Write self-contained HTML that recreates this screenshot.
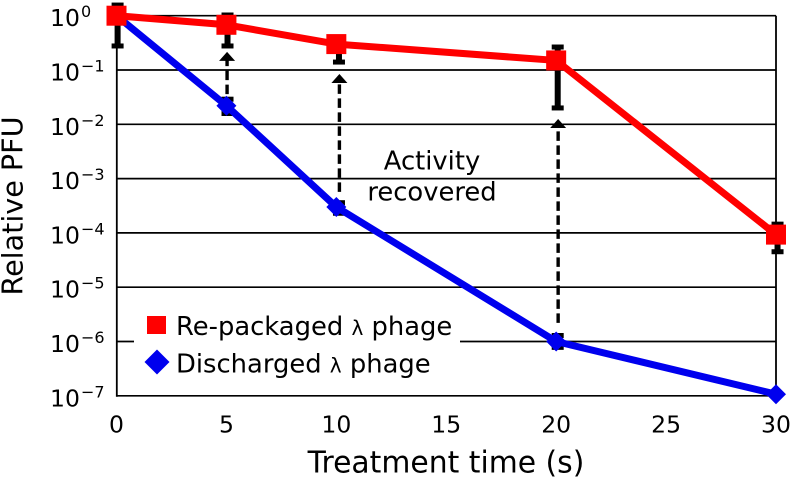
<!DOCTYPE html>
<html>
<head>
<meta charset="utf-8">
<style>
html,body{margin:0;padding:0;background:#fff;width:793px;height:478px;overflow:hidden}
svg{display:block;font-family:"DejaVu Sans","Liberation Sans",sans-serif;fill:#000}
</style>
</head>
<body>
<svg id="chart" width="793" height="478" viewBox="0 0 793 478" xmlns="http://www.w3.org/2000/svg">
  <text x="22.5" y="206" font-size="28.6" text-anchor="middle" transform="rotate(-90 22.5 206)">Relative PFU</text>
  <text x="446" y="472.5" font-size="29.8" text-anchor="middle">Treatment time (s)</text>
</svg>
<script>
var xTickValues = [0, 5, 10, 15, 20, 25, 30];
var yTickExponents = [0, -1, -2, -3, -4, -5, -6, -7];

var times = [0, 5, 10, 20, 30];
var repackaged = [1, 0.68, 0.3, 0.15, 0.000093];
var repackagedUpper = [1.57, 1.03, 0.35, 0.265, 0.000145];
var repackagedLower = [0.277, 0.277, 0.14, 0.02, 0.000045];
var discharged = [1, 0.022, 0.0003, 0.000001, 0.000000107];
var dischargedUpper = [1, 0.029, 0.00036, 0.00000129, 0.000000107];
var dischargedLower = [1, 0.0158, 0.00023, 0.00000078, 0.000000107];
var errorBarTimes = [0.05, 5.05, 10.12, 20.07, 30.07];

var arrowTimes = [5.03, 10.14, 20.09];
var arrowFrom = [0.036, 0.00057, 0.0000022];
var arrowTo = [0.216, 0.0843, 0.0125];

var SVGNS = 'http://www.w3.org/2000/svg';
var svg = document.getElementById('chart');

function xScale(t) { return 116.5 + (t / 30) * 659.5; }
function yScale(v) { return 15.7 - Math.log10(v) * 54.3; }

function add(tag, attrs, parent) {
  var el = document.createElementNS(SVGNS, tag);
  for (var k in attrs) el.setAttribute(k, attrs[k]);
  (parent || svg).appendChild(el);
  return el;
}

// grid lines
yTickExponents.forEach(function (e) {
  var y = yScale(Math.pow(10, e));
  var g = add('line', {x1: 116.5, x2: 776, y1: y, y2: y, stroke: '#000', 'stroke-width': 1.7});
  
  
});

// plot sides
var leftAxis = add('line', {x1: 116.8, x2: 116.8, y1: yScale(1), y2: yScale(1e-7) + 1, stroke: '#000', 'stroke-width': 1.8});


var rightAxis = add('line', {x1: 776, x2: 776, y1: yScale(1), y2: yScale(1e-7) + 1, stroke: '#000', 'stroke-width': 1.8});



// y tick labels
yTickExponents.forEach(function (e) {
  var y = yScale(Math.pow(10, e));
  var t = add('text', {x: 50, y: y + 10.5, 'font-size': 23.5});
  t.textContent = '10';
  
  
  var s = add('text', {x: 81, y: y + 1.5, 'font-size': 16});
  s.textContent = e === 0 ? '0' : '\u2212' + Math.abs(e);
  
  
});

// x tick labels
xTickValues.forEach(function (v) {
  var t = add('text', {x: xScale(v), y: 432.5, 'font-size': 23.5, 'text-anchor': 'middle'});
  t.textContent = String(v);
  
  
});

// legend backdrop interrupts the 10^-6 grid line
var legendBg = add('rect', {x: 134, y: 305, width: 326, height: 82, fill: '#fff'});



// dashed arrows
arrowTimes.forEach(function (t, i) {
  var x = xScale(t), y0 = yScale(arrowFrom[i]), y1 = yScale(arrowTo[i]);
  var l = add('line', {x1: x, x2: x, y1: y0, y2: y1 + 8, stroke: '#000', 'stroke-width': 3.4, 'stroke-dasharray': '9.5 4.5'});
  
  
  var h = add('polygon', {points: x + ',' + y1 + ' ' + (x - 8) + ',' + (y1 + 9) + ' ' + (x + 8) + ',' + (y1 + 9), fill: '#000'});
  
  
});

// error bars
function errorBars(upper, lower, name) {
  times.forEach(function (t, i) {
    if (upper[i] === lower[i]) return;
    var x = xScale(errorBarTimes[i]), a = yScale(upper[i]), b = yScale(lower[i]);
    var stem = add('line', {x1: x, x2: x, y1: a, y2: b, stroke: '#000', 'stroke-width': 6});
    
    
    var c1 = add('line', {x1: x - 6, x2: x + 6, y1: a, y2: a, stroke: '#000', 'stroke-width': 5});
    
    
    var c2 = add('line', {x1: x - 6, x2: x + 6, y1: b, y2: b, stroke: '#000', 'stroke-width': 5});
    
    
  });
}
errorBars(dischargedUpper, dischargedLower, 'discharged');
errorBars(repackagedUpper, repackagedLower, 'repackaged');

function pts(values) {
  return times.map(function (t, i) { return xScale(t) + ',' + yScale(values[i]); }).join(' ');
}

// discharged series
var blueLine = add('polyline', {points: pts(discharged), fill: 'none', stroke: '#0000ee', 'stroke-width': 7, 'stroke-linejoin': 'round'});


times.forEach(function (t, i) {
  var x = xScale(t), y = yScale(discharged[i]), r = 10;
  var d = add('polygon', {points: x + ',' + (y - r) + ' ' + (x + r) + ',' + y + ' ' + x + ',' + (y + r) + ' ' + (x - r) + ',' + y, fill: '#0000ee'});
  
  
});

// repackaged series
var redLine = add('polyline', {points: pts(repackaged), fill: 'none', stroke: '#ff0000', 'stroke-width': 7, 'stroke-linejoin': 'round'});


times.forEach(function (t, i) {
  var x = xScale(t), y = yScale(repackaged[i]);
  var s = add('rect', {x: x - 10, y: y - 10, width: 20, height: 20, fill: '#ff0000'});
  
  
});

// annotation
var a1 = add('text', {x: 432, y: 169.3, 'font-size': 25.8, 'text-anchor': 'middle'});
a1.textContent = 'Activity';


var a2 = add('text', {x: 432, y: 200.7, 'font-size': 25.8, 'text-anchor': 'middle'});
a2.textContent = 'recovered';



// legend
var lr = add('rect', {x: 147, y: 316, width: 19, height: 18, fill: '#ff0000'});


var lb = add('polygon', {points: '157,349.5 169.5,362 157,374.5 144.5,362', fill: '#0000ee'});



function legendLabel(y, before) {
  var t = add('text', {x: 176, y: y, 'font-size': 25.8});
  t.appendChild(document.createTextNode(before + ' '));
  var lam = add('tspan', {'font-size': 20}, t);
  lam.textContent = '\u03BB';
  t.appendChild(document.createTextNode(' phage'));
  return t;
}
var t1 = legendLabel(335, 'Re-packaged');


var t2 = legendLabel(372.5, 'Discharged');


</script>
</body>
</html>
